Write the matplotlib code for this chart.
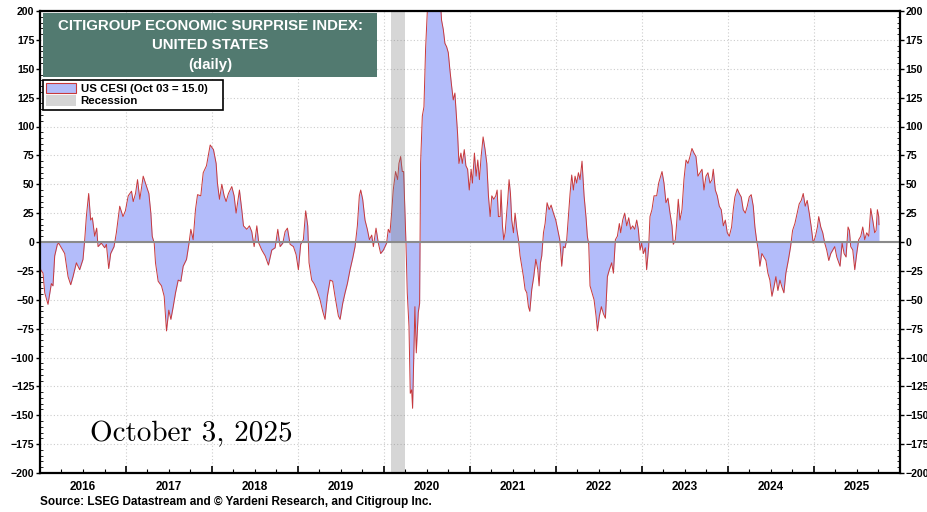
import matplotlib
matplotlib.use("Agg")
import matplotlib.pyplot as plt
import matplotlib.dates as mdates
from matplotlib.patches import Patch, Rectangle
import pandas as pd

# US CESI (decimal year, index value)
years = [
    2016.000, 2016.008, 2016.035, 2016.055, 2016.093, 2016.132, 2016.151, 2016.171, 2016.202,
    2016.217, 2016.248, 2016.287, 2016.326, 2016.357, 2016.384, 2016.423, 2016.461, 2016.500,
    2016.520, 2016.539, 2016.566, 2016.589, 2016.609, 2016.636, 2016.659, 2016.675, 2016.713,
    2016.752, 2016.772, 2016.799, 2016.822, 2016.861, 2016.888, 2016.927, 2016.965, 2016.993,
    2017.024, 2017.062, 2017.082, 2017.109, 2017.132, 2017.159, 2017.198, 2017.237, 2017.264,
    2017.287, 2017.303, 2017.326, 2017.341, 2017.372, 2017.411, 2017.442, 2017.469, 2017.496,
    2017.520, 2017.547, 2017.574, 2017.605, 2017.636, 2017.663, 2017.702, 2017.729, 2017.752,
    2017.779, 2017.806, 2017.830, 2017.868, 2017.896, 2017.934,
    2017.977, 2018.016, 2018.047, 2018.062, 2018.086, 2018.113, 2018.140, 2018.163, 2018.190,
    2018.229, 2018.256, 2018.279, 2018.318, 2018.345, 2018.365, 2018.403, 2018.434, 2018.461,
    2018.489, 2018.520, 2018.543, 2018.578, 2018.617, 2018.655, 2018.694, 2018.733, 2018.764,
    2018.791, 2018.822, 2018.849, 2018.876, 2018.907, 2018.946, 2018.977, 2019.004, 2019.031,
    2019.062, 2019.089, 2019.113, 2019.128, 2019.159, 2019.186, 2019.217, 2019.256, 2019.287,
    2019.314, 2019.341, 2019.372, 2019.403, 2019.430, 2019.469, 2019.489, 2019.520, 2019.547,
    2019.574, 2019.605, 2019.636, 2019.663, 2019.690, 2019.713, 2019.729, 2019.752, 2019.779,
    2019.806, 2019.830, 2019.857, 2019.876, 2019.907, 2019.934, 2019.961, 2019.993,
    2020.012, 2020.031, 2020.050, 2020.070, 2020.089, 2020.108, 2020.135, 2020.159, 2020.174,
    2020.194, 2020.213, 2020.229, 2020.244, 2020.256, 2020.271, 2020.291, 2020.306, 2020.322,
    2020.333, 2020.349, 2020.360, 2020.376, 2020.399, 2020.415, 2020.426, 2020.446, 2020.465,
    2020.484, 2020.504, 2020.527, 2020.554, 2020.585, 2020.612, 2020.639, 2020.659, 2020.670,
    2020.690, 2020.709, 2020.729, 2020.748, 2020.767, 2020.787, 2020.806, 2020.825, 2020.837,
    2020.856, 2020.872, 2020.895, 2020.911, 2020.934, 2020.953, 2020.973, 2020.992, 2021.012,
    2021.027, 2021.050, 2021.070, 2021.089, 2021.108, 2021.128, 2021.151, 2021.174, 2021.194,
    2021.213, 2021.233, 2021.252, 2021.275, 2021.298, 2021.314, 2021.329, 2021.349, 2021.360,
    2021.376, 2021.391, 2021.407, 2021.422, 2021.438, 2021.453, 2021.469, 2021.484, 2021.504,
    2021.523, 2021.543, 2021.562, 2021.581, 2021.601, 2021.620, 2021.639, 2021.659, 2021.678,
    2021.694, 2021.717, 2021.740, 2021.764, 2021.787, 2021.802, 2021.818, 2021.833, 2021.853,
    2021.872, 2021.895, 2021.919, 2021.942, 2021.969, 2021.996, 2022.019, 2022.043,
    2022.066, 2022.085, 2022.105, 2022.124, 2022.143, 2022.163, 2022.182, 2022.202, 2022.221,
    2022.240, 2022.260, 2022.279, 2022.302, 2022.326, 2022.349, 2022.364, 2022.380, 2022.395,
    2022.419, 2022.442, 2022.465, 2022.481, 2022.504, 2022.527, 2022.550, 2022.574, 2022.597,
    2022.620, 2022.647, 2022.667, 2022.690, 2022.713, 2022.736, 2022.752, 2022.775, 2022.798,
    2022.822, 2022.845, 2022.868, 2022.891, 2022.915, 2022.938, 2022.957, 2022.977, 2022.996,
    2023.016, 2023.039, 2023.054, 2023.078, 2023.093, 2023.116, 2023.140, 2023.171, 2023.194,
    2023.217, 2023.233, 2023.256, 2023.279, 2023.302, 2023.326, 2023.349, 2023.364, 2023.388,
    2023.403, 2023.422, 2023.442, 2023.465, 2023.488, 2023.512, 2023.535, 2023.558, 2023.581,
    2023.605, 2023.628, 2023.651, 2023.674, 2023.698, 2023.721, 2023.744, 2023.767, 2023.791,
    2023.814, 2023.829, 2023.853, 2023.876, 2023.899, 2023.922, 2023.946, 2023.969, 2023.992,
    2024.016, 2024.043, 2024.062, 2024.081, 2024.109, 2024.132, 2024.155, 2024.178, 2024.202,
    2024.225, 2024.248, 2024.271, 2024.295, 2024.314, 2024.333, 2024.353, 2024.372, 2024.395,
    2024.419, 2024.442, 2024.465, 2024.488, 2024.512, 2024.535, 2024.558, 2024.581, 2024.605,
    2024.628, 2024.651, 2024.674, 2024.702, 2024.729, 2024.752, 2024.779, 2024.806, 2024.829,
    2024.853, 2024.876, 2024.899, 2024.922, 2024.946, 2024.969, 2024.992, 2025.016, 2025.039,
    2025.054, 2025.078, 2025.101, 2025.124, 2025.147, 2025.171, 2025.194, 2025.217, 2025.240,
    2025.264, 2025.287, 2025.302, 2025.326, 2025.349, 2025.372, 2025.395, 2025.411, 2025.426,
    2025.450, 2025.473, 2025.496, 2025.519, 2025.543, 2025.566, 2025.589, 2025.612, 2025.636,
    2025.659, 2025.682, 2025.705, 2025.721, 2025.736, 2025.752, 2025.755,
]
cesi = [
    -20, -24, -27, -44, -54, -36, -38, -12, -2,
    -1, -5, -10, -30, -37, -30, -18, -24, -15,
    2, 22, 42, 19, 21, 5, 12, -4, -1,
    -5, -2, -23, -10, -4, 8, 31, 22, 27,
    40, 44, 35, 42, 54, 37, 57, 48, 42,
    25, 5, -1, -18, -34, -38, -47, -77, -59,
    -67, -56, -44, -33, -34, -21, -15, -2, 11,
    2, 28, 41, 40, 60, 66,
    84, 80, 68, 51, 37, 50, 40, 35, 42,
    48, 40, 25, 45, 28, 14, 11, 14, 9,
    -4, 14, -1, -7, -12, -20, -7, -5, 11,
    -4, -1, 9, 12, -2, -4, -11, -24, -2,
    2, 27, 14, -18, -33, -36, -41, -50, -60,
    -67, -47, -33, -34, -47, -64, -67, -53, -44,
    -36, -24, -14, -4, 14, 40, 45, 37, 19,
    11, 2, 6, -4, 12, -1, -10, -7,
    -4, -1, 11, 8, 25, 45, 61, 54, 68,
    74, 61, 61, 25, -1, -44, -73, -131, -128,
    -144, -93, -56, -96, -61, -53, 68, 109, 117,
    167, 198, 240, 265, 270, 255, 230, 205, 192,
    184, 172, 169, 164, 149, 135, 123, 129, 115,
    94, 68, 77, 68, 80, 66, 63, 45, 63,
    51, 77, 57, 71, 54, 74, 91, 80, 68,
    40, 22, 40, 37, 40, 45, 22, 22, 45,
    14, 2, 8, 22, 37, 54, 42, 19, 8,
    25, 11, 2, -12, -21, -30, -41, -44, -56,
    -60, -41, -30, -15, -24, -38, -18, -12, 8,
    16, 34, 28, 32, 25, 19, 11, 2,
    -21, -4, -5, 2, 22, 42, 58, 45, 57,
    51, 60, 54, 70, 40, 21, 5, -2, -38,
    -44, -50, -64, -77, -64, -56, -62, -66, -30,
    -24, -18, -27, 2, 5, 16, 8, 19, 25,
    14, 21, 11, 14, 11, 19, 11, -7, -1,
    -10, -5, -24, -4, 22, 28, 40, 40, 51,
    57, 61, 51, 34, 38, 25, 14, -2, 2,
    16, 37, 19, 28, 54, 71, 68, 74, 81,
    77, 74, 57, 60, 63, 45, 57, 60, 51,
    54, 63, 45, 40, 31, 28, 14, 19, 8,
    5, 13, 28, 39, 46, 42, 39, 28, 25,
    31, 39, 41, 31, 13, 2, -7, -21, -10,
    -13, -16, -27, -33, -47, -39, -30, -42, -33,
    -39, -44, -27, -16, -4, 10, 16, 25, 33,
    36, 42, 31, 36, 25, 13, -1, 5, 13,
    22, 13, 8, -1, -7, -16, -10, -7, -4,
    -13, -18, -21, -1, -10, -13, 13, 10, -4,
    -7, -24, -10, 2, 5, 13, 2, 8, 5,
    29, 19, 8, 10, 28, 22, 15,
]
recessions = [("2020-02-01", "2020-04-01")]
y_ticks = list(range(-200, 201, 25))


def to_date(t):
    y = int(t)
    return pd.Timestamp(f"{y}-01-01") + pd.Timedelta(days=(t - y) * 365.25)


dates = [to_date(t) for t in years]

blue_fill = "#b3bcfa"
red_line = "#c8393b"

plt.rcParams["font.family"] = ["Liberation Sans", "DejaVu Sans"]
fig = plt.figure(figsize=(9.28, 5.12), dpi=100)
ax = fig.add_axes([40 / 928, 39 / 512, 860 / 928, 462 / 512])

ax.fill_between(dates, cesi, 0, color=blue_fill, lw=0, zorder=2)
ax.plot(dates, cesi, color=red_line, lw=0.7, zorder=3)
for start, end in recessions:
    ax.axvspan(pd.Timestamp(start), pd.Timestamp(end), color="#7a7a7a", alpha=0.3, lw=0, zorder=4)
ax.axhline(0, color="#8a8a8a", lw=1.5, zorder=5)

ax.set_xlim(pd.Timestamp("2016-01-01"), pd.Timestamp("2026-01-01"))
ax.set_ylim(-200, 200)
ax.set_yticks(y_ticks)
ax.yaxis.set_minor_locator(plt.MultipleLocator(5))

ax.xaxis.set_major_locator(mdates.YearLocator())
ax.xaxis.set_major_formatter(plt.NullFormatter())
ax.xaxis.set_minor_locator(mdates.MonthLocator(bymonth=[1, 4, 7, 10]))
ax.xaxis.set_minor_formatter(
    plt.FuncFormatter(lambda v, p: mdates.num2date(v).strftime("%Y") if mdates.num2date(v).month == 7 else "")
)

ax.grid(True, which="major", color="#cccccc", ls=(0, (1, 2)), lw=0.8, zorder=1)
ax.tick_params(axis="y", which="major", left=True, right=True, labelleft=True, labelright=True,
               length=3, width=1, labelsize=7.6, pad=1)
ax.tick_params(axis="y", which="minor", left=True, right=True, direction="in", length=2, width=0.6)
ax.tick_params(axis="x", which="major", direction="in", length=5, width=1.2)
ax.tick_params(axis="x", which="minor", direction="in", length=3, width=0.8, labelsize=8.5, pad=6)
for lab in ax.get_yticklabels() + ax.get_xticklabels(minor=True):
    lab.set_fontweight("bold")
for s in ax.spines.values():
    s.set_linewidth(1.6)
    s.set_zorder(6)

# title box
ax.add_patch(Rectangle((0.0035, 0.857), 0.3885, 0.139, transform=ax.transAxes,
                       facecolor="#527a70", edgecolor="none", zorder=7))
title_lines = ["CITIGROUP ECONOMIC SURPRISE INDEX:", "UNITED STATES", "(daily)"]
for i, line in enumerate(title_lines):
    ax.text(0.198, 0.968 - i * 0.042, line, transform=ax.transAxes, ha="center", va="center",
            color="white", fontsize=10.8, fontweight="bold", zorder=8)

handles = [Patch(facecolor=blue_fill, edgecolor=red_line, lw=0.8),
           Patch(facecolor="#d5d5d5", edgecolor="none")]
leg = ax.legend(handles, ["US CESI (Oct 03 = 15.0)    ", "Recession"], loc="upper left",
                bbox_to_anchor=(0.0035, 0.851), borderaxespad=0, fancybox=False,
                prop={"size": 8.2, "weight": "bold"}, handlelength=2.6, handleheight=1.0,
                labelspacing=0.1, borderpad=0.3, handletextpad=0.4, framealpha=1)
leg.get_frame().set_edgecolor("black")
leg.get_frame().set_linewidth(1.2)
leg.set_zorder(8)

ax.text(0.058, 0.085, "October 3, 2025", transform=ax.transAxes, fontsize=21,
        family="cmr10", ha="left", va="center", zorder=8)

fig.text(40 / 928, 4 / 512, "Source: LSEG Datastream and \u00a9 Yardeni Research, and Citigroup Inc.",
         fontsize=8.5, fontweight="bold", ha="left", va="bottom")

fig.savefig("out.png", dpi=100)
